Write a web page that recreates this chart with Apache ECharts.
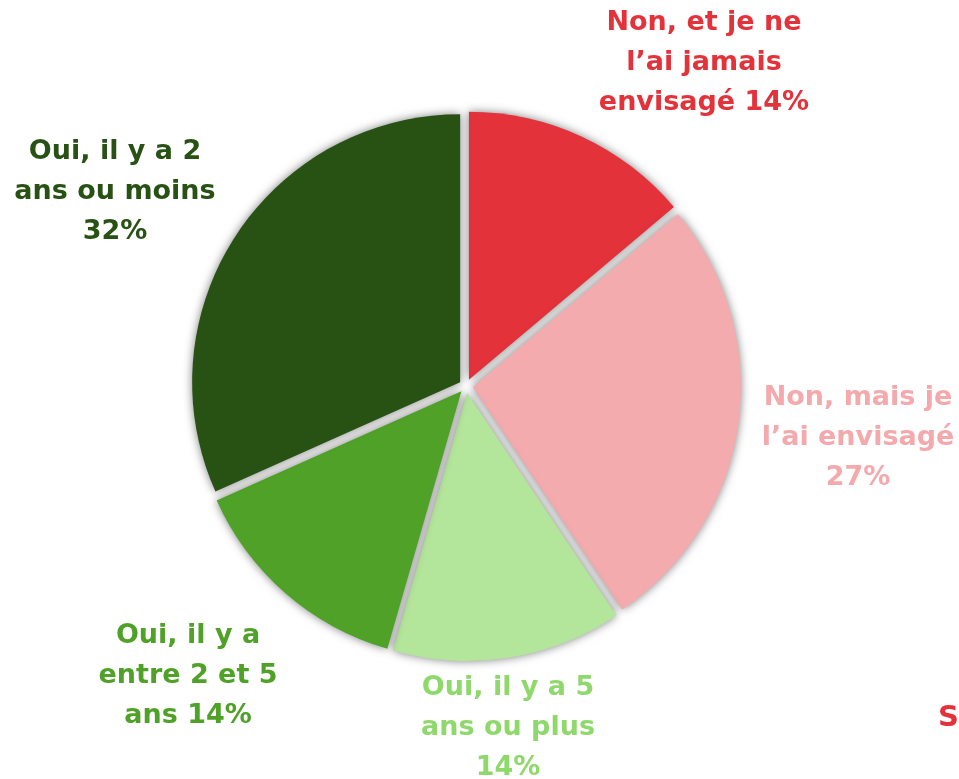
<!DOCTYPE html>
<html><head><meta charset="utf-8">
<script src="https://cdn.jsdelivr.net/npm/echarts@6/dist/echarts.min.js"></script>
<style>html,body{margin:0;padding:0;background:#fff}#c{width:959px;height:779px}</style>
</head><body><div id="c"></div>
<script>
const categories = [
  "Non, et je ne\nl\u2019ai jamais\nenvisag\u00e9",
  "Non, mais je\nl\u2019ai envisag\u00e9\n",
  "Oui, il y a 5\nans ou plus\n",
  "Oui, il y a\nentre 2 et 5\nans",
  "Oui, il y a 2\nans ou moins\n"
];
const values = [14, 27, 14, 14, 32];
const colors = ["#E4323B", "#F4ABAE", "#B3E59A", "#4FA128", "#285114"];
const labelColors = ["#E4323B", "#F4A9AC", "#8FD86C", "#4FA128", "#285114"];
const labelPos = [[704, 63], [858, 438], [508, 728], [188, 676], [115, 192]];

const chart = echarts.init(document.getElementById('c'), null, {renderer: 'canvas'});
const data = values.map((v, i) => ({
  name: categories[i], value: v, selected: true,
  itemStyle: {color: colors[i]}
}));
const labelText = (i) => {
  const n = categories[i];
  return n.endsWith('\n') ? n + values[i] + '%' : n + ' ' + values[i] + '%';
};
chart.setOption({
  animation: false,
  series: [{
    type: 'pie',
    center: [466, 386],
    radius: [0, 268],
    startAngle: 90,
    clockwise: true,
    selectedMode: 'multiple',
    selectedOffset: 7,
    data: data,
    itemStyle: {borderWidth: 0, shadowBlur: 10, shadowColor: 'rgba(0,0,0,0.5)'},
    emphasis: {disabled: true},
    label: {show: false},
    labelLine: {show: false}
  }],
  graphic: values.map((v, i) => ({
    type: 'text', x: labelPos[i][0], y: labelPos[i][1],
    style: {
      text: labelText(i), fill: labelColors[i],
      font: 'bold 27px "DejaVu Sans"', lineHeight: 40,
      align: 'center', verticalAlign: 'middle'
    }
  })).concat([{
    type: 'text', x: 938, y: 718,
    style: {text: 'S', fill: '#E4323B', font: 'bold 29px "DejaVu Sans"', verticalAlign: 'middle'}
  }])
});
</script></body></html>
